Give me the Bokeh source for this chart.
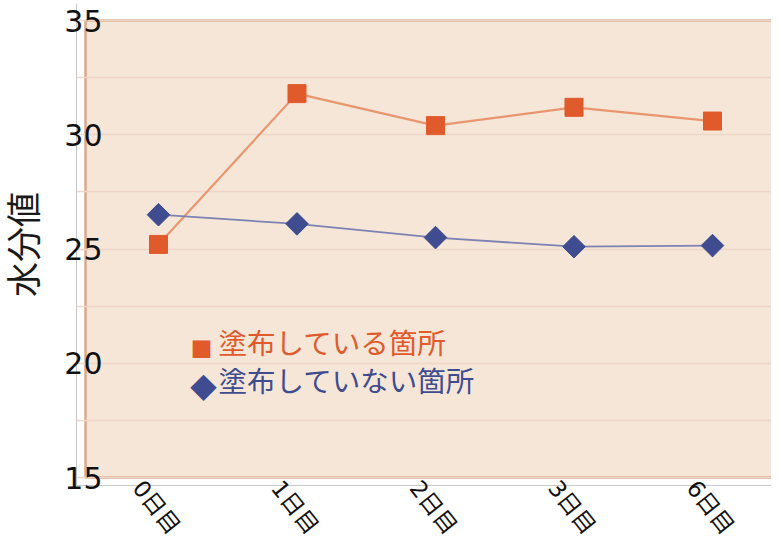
import math
import numpy as np
from bokeh.plotting import figure
from bokeh.models import ColumnDataSource, Range1d, FixedTicker, Label
from bokeh.embed import file_html
from bokeh.resources import INLINE

# ---- data ----
days = ["0日目", "1日目", "2日目", "3日目", "6日目"]
applied = [25.2, 31.8, 30.4, 31.2, 30.6]        # 塗布している箇所
not_applied = [26.5, 26.1, 25.5, 25.1, 25.15]   # 塗布していない箇所
y_ticks = [15, 20, 25, 30, 35]
series_names = ["塗布している箇所", "塗布していない箇所"]
y_title = "水分値"

FONT = "'Noto Sans CJK JP'"
NUM_FONT = "'DejaVu Sans', 'Noto Sans CJK JP'"
ORANGE = "#E05A2B"
ORANGE_LINE = "#E9966F"
BLUE = "#3F4C8F"
BLUE_LINE = "#7D82B2"
TAN = "#F5E6D7"
TAN_BORDER = "#D9A88D"
GRID = "#EFD6C6"
AXIS_GRAY = "#C8C8C8"
LABEL_SHIFT = 0.15   # visual offset of rotated x tick labels

xs = list(range(len(days)))
src = ColumnDataSource(dict(x=xs, a=applied, n=not_applied))

p = figure(width=771, height=550, output_backend="svg", toolbar_location=None,
           x_range=Range1d(-0.592, 4.426), y_range=Range1d(14.65, 35.744),
           min_border_left=76, min_border_right=0, min_border_top=3, min_border_bottom=65)
p.outline_line_color = None
p.background_fill_color = "white"

# plot-area panel (tan box with brown border)
panel = p.quad(left=[-0.527], right=[5.0], bottom=[y_ticks[0]], top=[y_ticks[-1]],
               fill_color=TAN, line_color=TAN_BORDER, line_width=2.5)
panel.level = "image"

# grid
p.xgrid.visible = False
p.ygrid.ticker = FixedTicker(ticks=list(np.arange(15, 35.01, 2.5)))
p.ygrid.grid_line_color = GRID
p.ygrid.grid_line_width = 1.5

# series
p.line("x", "a", source=src, line_color=ORANGE_LINE, line_width=2.2)
p.line("x", "n", source=src, line_color=BLUE_LINE, line_width=1.8)
p.scatter("x", "a", source=src, marker="square", size=18,
          fill_color=ORANGE, line_color=ORANGE)
p.scatter("x", "n", source=src, marker="square", size=16, angle=math.pi / 4,
          fill_color=BLUE, line_color=BLUE)

# axes
p.yaxis.ticker = FixedTicker(ticks=y_ticks)
p.yaxis.major_label_standoff = -26
p.yaxis.major_label_text_font = NUM_FONT
p.yaxis.major_label_text_font_size = "30px"
p.yaxis.major_label_text_color = "#111111"
p.yaxis.axis_label = y_title
p.yaxis.axis_label_text_font = NUM_FONT
p.yaxis.axis_label_text_font_size = "35px"
p.yaxis.axis_label_text_font_style = "normal"
p.yaxis.axis_label_text_color = "#1a1a1a"
p.yaxis.axis_label_standoff = 16

x_tick_pos = [i - LABEL_SHIFT for i in xs]
p.xaxis.ticker = FixedTicker(ticks=x_tick_pos)
p.xaxis.major_label_overrides = {t: d for t, d in zip(x_tick_pos, days)}
p.xaxis.major_label_orientation = -0.9
p.xaxis.major_label_text_font = NUM_FONT
p.xaxis.major_label_text_font_size = "23px"
p.xaxis.major_label_text_color = "#111111"
p.xaxis.major_label_standoff = -2

for ax in (p.xaxis[0], p.yaxis[0]):
    ax.axis_line_color = AXIS_GRAY
    ax.axis_line_width = 1
    ax.major_tick_line_color = None
    ax.minor_tick_line_color = None
    ax.major_tick_out = 0
    ax.major_tick_in = 0

# legend text box (marker symbol + coloured text), positioned in screen px inside the frame
legend_rows = [("■", series_names[0], ORANGE, "22px", 125, 139, 142, 144),
               ("◆", series_names[1], BLUE, "27px", 127, 99, 142, 106)]
for sym, name, col, sym_size, sx, sy, tx, ty in legend_rows:
    p.add_layout(Label(x=sx, y=sy, x_units="screen", y_units="screen", text=sym,
                       text_align="center", text_baseline="middle",
                       text_font=FONT, text_font_size=sym_size, text_color=col))
    p.add_layout(Label(x=tx, y=ty, x_units="screen", y_units="screen", text=name,
                       text_align="left", text_baseline="middle",
                       text_font=FONT, text_font_size="28.5px", text_color=col))

open("out.html", "w").write(file_html(p, INLINE))
